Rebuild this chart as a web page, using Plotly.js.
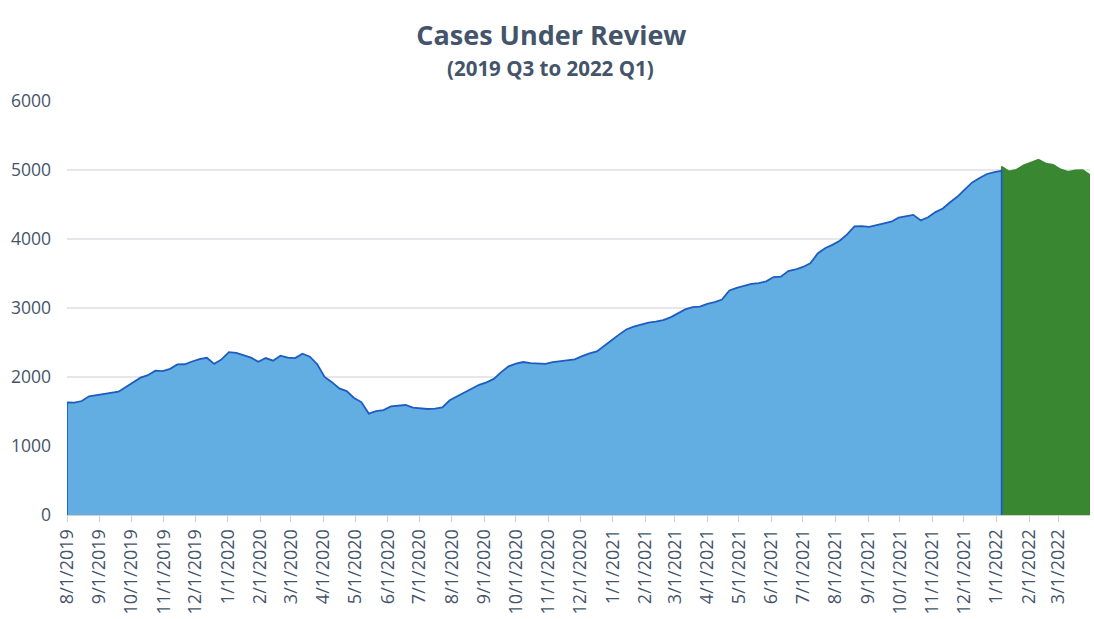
<!DOCTYPE html>
<html>
<head>
<meta charset="utf-8">
<script src="https://cdn.plot.ly/plotly-3.0.1.min.js"></script>
<style>html,body{margin:0;padding:0;background:#fff;}#chart{width:1094px;height:619px;}</style>
</head>
<body>
<div id="chart"></div>
<script>
// Weekly observations starting 2019-08-01
const firstWeek = '2019-08-01';
const reviewedCases = [
  1633,1628,1652,1720,1739,1756,1773,1787,1856,1920,
  1990,2026,2092,2085,2118,2182,2185,2225,2260,2278,
  2190,2255,2360,2350,2318,2280,2220,2275,2236,2308,
  2282,2275,2338,2295,2185,2000,1925,1835,1796,1697,
  1637,1470,1505,1521,1574,1584,1594,1557,1551,1536,
  1543,1558,1662,1716,1775,1826,1887,1922,1972,2070,
  2155,2194,2217,2200,2197,2190,2215,2226,2234,2256,
  2303,2343,2370,2446,2533,2614,2688,2730,2755,2788,
  2801,2823,2864,2923,2980,3014,3019,3059,3084,3123,
  3254,3293,3320,3350,3361,3387,3448,3454,3535,3558,
  3595,3648,3790,3867,3915,3975,4066,4183,4188,4177,
  4200,4222,4250,4310,4329,4350,4270,4315,4390,4442,
  4533,4615,4720,4820,4885,4942,4970,4988
];
const currentCases = [5050,4980,5005,5068,5110,5150,5095,5075,5010,4975,4995,5000,4928];

const xRange = ['2019-08-01', '2022-03-31'];
const yTicks = [0,1000,2000,3000,4000,5000,6000];

function weekDate(i){
  const d = new Date(firstWeek + 'T00:00:00Z');
  d.setUTCDate(d.getUTCDate() + 7*i);
  return d.toISOString().slice(0,10);
}
const blueDates = reviewedCases.map((_, i) => weekDate(i));
const greenStart = reviewedCases.length - 1;
const greenDates = currentCases.map((_, i) => weekDate(greenStart + i));

const blueTrace = {
  type: 'scatter', mode: 'lines',
  x: [blueDates[0], ...blueDates, blueDates[blueDates.length-1]],
  y: [0, ...reviewedCases, 0],
  fill: 'toself', fillcolor: '#62AEE2',
  line: {color: '#1E5CC0', width: 1.8},
  hoverinfo: 'x+y', showlegend: false
};
const greenTrace = {
  type: 'scatter', mode: 'lines',
  x: [greenDates[0], ...greenDates, greenDates[greenDates.length-1]],
  y: [0, ...currentCases, 0],
  fill: 'toself', fillcolor: '#3A8731',
  line: {color: '#3A8731', width: 1.6},
  hoverinfo: 'x+y', showlegend: false
};

const fontFam = '"Open Sans", "Liberation Sans", sans-serif';
const txtColor = '#44546A';

const layout = {
  width: 1094, height: 619,
  margin: {l: 67, r: 4, t: 101, b: 104},
  paper_bgcolor: '#ffffff', plot_bgcolor: '#ffffff',
  font: {family: fontFam, color: txtColor},
  title: {
    text: '<b>Cases Under Review</b>',
    font: {family: fontFam, size: 27, color: txtColor},
    x: 0.504, xref: 'container', xanchor: 'center',
    y: 0.943, yref: 'container', yanchor: 'middle'
  },
  annotations: [{
    text: '<b>(2019 Q3 to 2022 Q1)</b>',
    xref: 'paper', yref: 'paper', x: 0.473, y: 1.08,
    xanchor: 'center', yanchor: 'middle', showarrow: false,
    font: {family: fontFam, size: 20.5, color: txtColor}
  }],
  xaxis: {
    type: 'date', range: xRange,
    tickmode: 'linear', tick0: '2019-08-01', dtick: 'M1',
    tickformat: '%-m/%-d/%Y', tickangle: -90,
    ticks: 'outside', ticklen: 6, tickcolor: '#D0D0D0', tickwidth: 1,
    tickfont: {family: fontFam, size: 18, color: txtColor},
    showgrid: false, zeroline: false,
    showline: true, linecolor: '#D0D0D0', linewidth: 1
  },
  yaxis: {
    range: [0, 6000], tickmode: 'array', tickvals: yTicks,
    ticktext: yTicks.map(String),
    tickfont: {family: fontFam, size: 17.5, color: txtColor},
    showgrid: true, gridcolor: '#E6E6EC', gridwidth: 1.5,
    zeroline: false, showline: false, ticks: '',
    ticklabelstandoff: 15
  },
  hovermode: 'closest'
};

Plotly.newPlot('chart', [greenTrace, blueTrace], layout, {displayModeBar: false, staticPlot: true});
</script>
</body>
</html>
